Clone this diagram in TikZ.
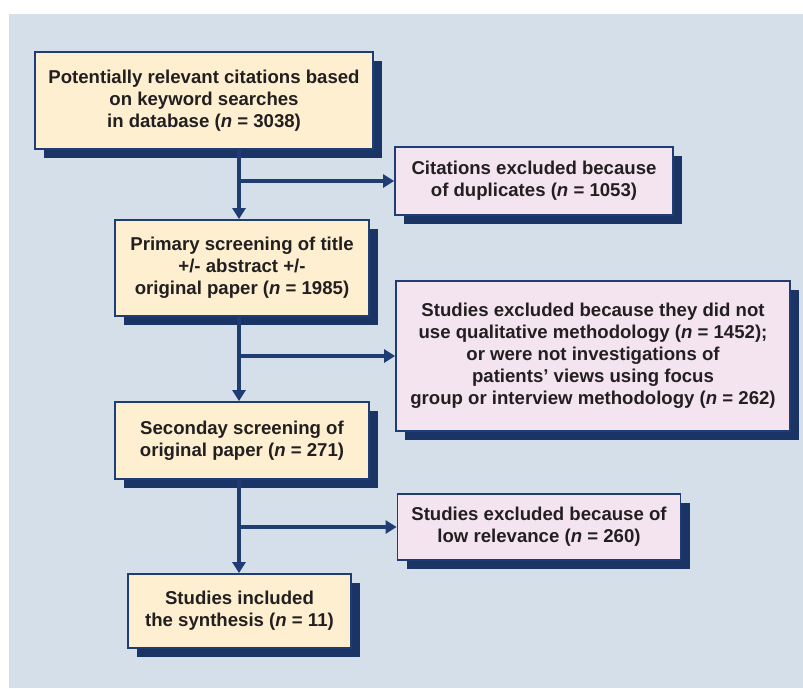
\documentclass[tikz,border=0pt]{standalone}
\usepackage{fontspec}
\setmainfont{Liberation Sans}
\usepackage{tikz}
\usetikzlibrary{arrows.meta,shadows}

\definecolor{panelblue}{HTML}{D5DFEA}
\definecolor{framenavy}{HTML}{1F3C73}
\definecolor{shadenavy}{HTML}{1B3466}
\definecolor{creamfill}{HTML}{FDEFD0}
\definecolor{pinkfill}{HTML}{F3E4F0}
\definecolor{inkgray}{HTML}{231F20}

\begin{document}
\begin{tikzpicture}[x=1pt, y=-1pt, >=Latex,
    box/.style={draw=framenavy, line width=1.8pt, inner sep=0pt, align=center,
        text=inkgray, font=\fontsize{18.6}{22}\selectfont\bfseries,
        drop shadow={shadow xshift=9pt, shadow yshift=-9pt, fill=shadenavy, opacity=1}},
    incbox/.style={box, fill=creamfill},
    excbox/.style={box, fill=pinkfill},
    link/.style={draw=framenavy, line width=4pt, -{Triangle[width=13pt,length=11pt]}}]
    \useasboundingbox (0,0) rectangle (803,688);
    \fill[panelblue] (9,14) rectangle (803,688);

    % main column
    \node[incbox, minimum width=338pt, minimum height=97pt] (search) at (204,100.5)
        {Potentially relevant citations based\\on keyword searches\\in database (\textit{n} = 3038)};
    \node[incbox, minimum width=254pt, minimum height=96pt] (primary) at (242,268)
        {Primary screening of title\\+/- abstract +/-\\original paper (\textit{n} = 1985)};
    \node[incbox, minimum width=254pt, minimum height=77pt] (second) at (242,440.5)
        {Seconday screening of\\original paper (\textit{n} = 271)};
    \node[incbox, minimum width=223pt, minimum height=74pt] (included) at (239.5,611)
        {Studies included\\the synthesis (\textit{n} = 11)};

    % exclusions
    \node[excbox, minimum width=278pt, minimum height=68pt] (dupes) at (534,181)
        {Citations excluded because\\of duplicates (\textit{n} = 1053)};
    \node[excbox, minimum width=394pt, minimum height=150pt] (method) at (593,356)
        {Studies excluded because they did not\\use qualitative methodology (\textit{n} = 1452);\\or were not investigations of\\patients' views using focus\\group or interview methodology (\textit{n} = 262)};
    \node[excbox, minimum width=283pt, minimum height=66pt] (lowrel) at (539,527)
        {Studies excluded because of\\low relevance (\textit{n} = 260)};

    % branch points on the trunk
    \coordinate (split1) at (239,181);
    \coordinate (split2) at (239,356);
    \coordinate (split3) at (239,527);

    \draw[link] (search.south -| split1) -- (primary.north -| split1);
    \draw[link] (split1) -- (dupes.west);
    \draw[link] (primary.south -| split2) -- (second.north -| split2);
    \draw[link] (split2) -- (method.west);
    \draw[link] (second.south -| split3) -- (included.north -| split3);
    \draw[link] (split3) -- (lowrel.west);
\end{tikzpicture}
\end{document}
